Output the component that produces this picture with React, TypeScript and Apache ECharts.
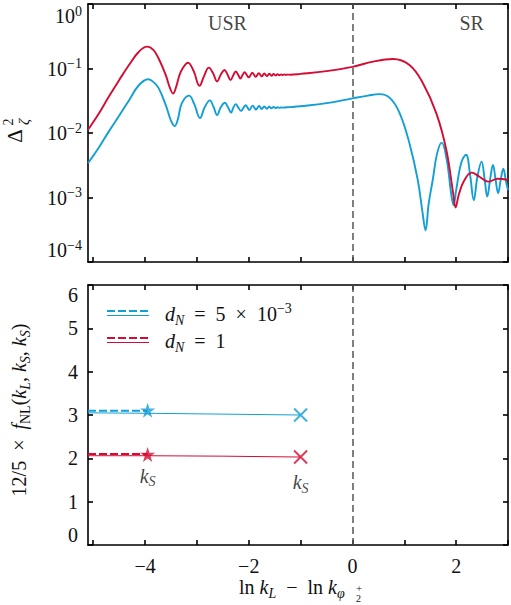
import React, { useEffect, useRef } from "react";
import * as echarts from "echarts";

// Power spectrum Δ²_ζ versus ln k_L − ln k_{φ2+}
const X_MIN = -5.1;
const X_MAX = 3;
const xTickValues = [-5, -4, -3, -2, -1, 0, 1, 2, 3];
const xLabelValues = [-4, -2, 0, 2];
const fnlTickValues = [0, 1, 2, 3, 4, 5, 6];

// d_N = 1
const powerRed: [number, number][] = [
  [-5.1, 0.0112], [-4.9, 0.0195], [-4.7, 0.0365], [-4.5, 0.066], [-4.31, 0.113],
  [-4.12, 0.182], [-3.96, 0.218], [-3.84, 0.195], [-3.74, 0.144], [-3.6, 0.079],
  [-3.52, 0.05], [-3.46, 0.041], [-3.4, 0.052], [-3.31, 0.089], [-3.17, 0.123],
  [-3.06, 0.09], [-2.95, 0.054], [-2.86, 0.077], [-2.77, 0.103], [-2.69, 0.085],
  [-2.61, 0.063], [-2.54, 0.08], [-2.47, 0.095], [-2.41, 0.081], [-2.35, 0.066],
  [-2.3, 0.078], [-2.25, 0.09], [-2.205, 0.08], [-2.16, 0.0697], [-2.12, 0.079],
  [-2.08, 0.088], [-2.04, 0.08], [-2.0, 0.073], [-1.93, 0.086], [-1.865, 0.0745],
  [-1.805, 0.0845], [-1.75, 0.0755], [-1.7, 0.0835], [-1.65, 0.0765], [-1.605, 0.0828],
  [-1.56, 0.0772], [-1.52, 0.0822], [-1.48, 0.0778], [-1.445, 0.0818], [-1.41, 0.0784],
  [-1.375, 0.0812], [-1.345, 0.079], [-1.315, 0.0808], [-1.285, 0.0796], [-1.255, 0.0804],
  [-1.2, 0.0802], [-1.0, 0.0825], [-0.5, 0.091], [0, 0.106], [0.4, 0.128],
  [0.78, 0.14], [1.1, 0.113], [1.36, 0.059], [1.62, 0.02], [1.81, 0.0055],
  [1.94, 0.0012], [1.99, 0.0007], [2.05, 0.0011], [2.15, 0.0018], [2.3, 0.00243],
  [2.45, 0.0021], [2.62, 0.00176], [2.8, 0.00195], [3.0, 0.00187],
];

// d_N = 5 × 10^-3
const powerBlue: [number, number][] = [
  [-5.1, 0.0034], [-4.9, 0.0058], [-4.7, 0.0105], [-4.5, 0.0185], [-4.31, 0.032],
  [-4.12, 0.055], [-3.94, 0.068], [-3.84, 0.062], [-3.74, 0.05], [-3.6, 0.027],
  [-3.5, 0.0155], [-3.43, 0.0128], [-3.37, 0.016], [-3.29, 0.029], [-3.15, 0.038],
  [-3.05, 0.028], [-2.94, 0.017], [-2.85, 0.025], [-2.75, 0.032], [-2.68, 0.0255],
  [-2.61, 0.019], [-2.54, 0.025], [-2.46, 0.0295], [-2.4, 0.025], [-2.34, 0.0207],
  [-2.3, 0.0245], [-2.25, 0.028], [-2.2, 0.0247], [-2.15, 0.022], [-2.1, 0.0247],
  [-2.06, 0.027], [-2.02, 0.0245], [-1.99, 0.0227], [-1.925, 0.0266], [-1.86, 0.0231],
  [-1.8, 0.0262], [-1.75, 0.0235], [-1.7, 0.0258], [-1.65, 0.0238], [-1.605, 0.0255],
  [-1.56, 0.0241], [-1.52, 0.0253], [-1.48, 0.0243], [-1.445, 0.0251], [-1.41, 0.0245],
  [-1.375, 0.025], [-1.345, 0.0247], [-1.315, 0.0249], [-1.2, 0.0252], [-1.0, 0.026],
  [-0.5, 0.029], [0, 0.0345], [0.3, 0.038], [0.52, 0.04], [0.72, 0.035],
  [0.91, 0.0204], [1.1, 0.0069], [1.26, 0.00187], [1.35, 0.0006], [1.41, 0.00031],
  [1.47, 0.0008], [1.55, 0.0019], [1.63, 0.0047], [1.72, 0.0071], [1.82, 0.0038],
  [1.9, 0.0012], [1.95, 0.00076], [2.0, 0.0013], [2.1, 0.0035], [2.19, 0.0046],
  [2.27, 0.0022], [2.34, 0.00091], [2.41, 0.0021], [2.49, 0.0036], [2.55, 0.0019],
  [2.6, 0.00103], [2.655, 0.0019], [2.71, 0.0032], [2.76, 0.0019], [2.81, 0.00117],
  [2.86, 0.0019], [2.91, 0.0028], [2.96, 0.0018], [3.0, 0.0013],
];

// 12/5 × f_NL
const fnlBlueDashed: [number, number][] = [[-5.1, 3.1], [-3.95, 3.1]];
const fnlBlueSolid: [number, number][] = [[-5.1, 3.05], [-3.95, 3.04], [-2.5, 3.02], [-1, 3.0]];
const fnlRedDashed: [number, number][] = [[-5.1, 2.1], [-3.95, 2.1]];
const fnlRedSolid: [number, number][] = [[-5.1, 2.06], [-3.95, 2.06], [-2.5, 2.05], [-1, 2.03]];
const starBlue: [number, number] = [-3.95, 3.11];
const starRed: [number, number] = [-3.95, 2.09];
const crossBlue: [number, number] = [-1, 3.0];
const crossRed: [number, number] = [-1, 2.03];

const regionLabels = [
  { name: "USR", value: [-2.41, 0.51] },
  { name: "SR", value: [2.3, 0.51] },
];

const BLUE = "#129fd6";
const RED = "#d40c33";
const INK = "#111111";
const SERIF = "Liberation Serif";
const EN = "\u2002";

const STAR =
  "path://M50,0 L61.8,35.1 L98.9,35.1 L68.9,56.8 L80.3,91.9 L50,70.3 L19.7,91.9 L31.1,56.8 L1.1,35.1 L38.2,35.1 Z";
const CROSS = "path://M0,0 L10,10 M10,0 L0,10";

const mathRich = {
  i: { fontFamily: SERIF, fontSize: 20, fontStyle: "italic", color: INK, lineHeight: 26 },
  isub: { fontFamily: SERIF, fontSize: 14, fontStyle: "italic", color: INK, lineHeight: 14, verticalAlign: "bottom" },
  sub: { fontFamily: SERIF, fontSize: 14, color: INK, lineHeight: 14, verticalAlign: "bottom" },
  sup: { fontFamily: SERIF, fontSize: 14, color: INK, lineHeight: 14, verticalAlign: "top" },
};

const frameLine = { color: "#000", width: 1.6 };

function minus(v: number): string {
  return v < 0 ? "\u2212" + Math.abs(v) : String(v);
}

function xAxisDef(grid: number, position: "top" | "bottom", labels: boolean) {
  return {
    gridIndex: grid,
    type: "value",
    position,
    min: X_MIN,
    max: X_MAX,
    axisLine: { show: true, onZero: false, lineStyle: frameLine },
    axisTick: { show: true, inside: true, length: 5, customValues: xTickValues, lineStyle: frameLine },
    axisLabel: labels
      ? {
          show: true,
          customValues: xLabelValues,
          formatter: (v: number) => minus(v),
          margin: 11,
          fontFamily: SERIF,
          fontSize: 20,
          color: INK,
        }
      : { show: false },
    splitLine: { show: false },
  };
}

export default function App() {
  const ref = useRef<HTMLDivElement>(null);

  useEffect(() => {
    if (!ref.current) return;
    const chart = echarts.init(ref.current, undefined, { renderer: "svg" });

    const dashedZero = {
      silent: true,
      symbol: ["none", "none"],
      label: { show: false },
      lineStyle: { color: "#555", type: [7, 4], width: 1.5 },
      data: [{ xAxis: 0 }],
    };

    const option: any = {
      animation: false,
      backgroundColor: "#fff",
      textStyle: { fontFamily: SERIF },
      grid: [
        { left: 88, top: 4, width: 420, height: 258, outerBoundsMode: "none" },
        { left: 88, top: 285, width: 420, height: 260, outerBoundsMode: "none" },
      ],
      xAxis: [
        xAxisDef(0, "bottom", false),
        xAxisDef(0, "top", false),
        xAxisDef(1, "bottom", true),
        xAxisDef(1, "top", false),
      ],
      yAxis: [
        {
          gridIndex: 0,
          type: "log",
          logBase: 10,
          min: 1e-4,
          max: 1,
          position: "left",
          axisLine: { show: true, onZero: false, lineStyle: frameLine },
          axisTick: { show: true, inside: true, length: 5, lineStyle: frameLine },
          axisLabel: {
            show: true,
            margin: 6,
            showMinLabel: true,
            showMaxLabel: true,
            verticalAlignMinLabel: "bottom",
            verticalAlignMaxLabel: "top",
            fontFamily: SERIF,
            fontSize: 20,
            lineHeight: 24,
            color: INK,
            formatter: (v: number) => {
              const e = Math.round(Math.log10(v));
              return "10{sup|" + minus(e) + "}";
            },
            rich: { sup: { fontFamily: SERIF, fontSize: 14, color: INK, lineHeight: 14, verticalAlign: "top" } },
          },
          splitLine: { show: false },
        },
        {
          gridIndex: 0,
          type: "log",
          logBase: 10,
          min: 1e-4,
          max: 1,
          position: "right",
          axisLine: { show: true, onZero: false, lineStyle: frameLine },
          axisTick: { show: true, inside: true, length: 5, lineStyle: frameLine },
          axisLabel: { show: false },
          splitLine: { show: false },
        },
        {
          gridIndex: 1,
          type: "value",
          min: 0,
          max: 6,
          interval: 1,
          position: "left",
          axisLine: { show: true, onZero: false, lineStyle: frameLine },
          axisTick: { show: true, inside: true, length: 5, lineStyle: frameLine },
          axisLabel: {
            show: true,
            customValues: fnlTickValues,
            margin: 10,
            showMinLabel: true,
            showMaxLabel: true,
            verticalAlignMinLabel: "bottom",
            verticalAlignMaxLabel: "top",
            fontFamily: SERIF,
            fontSize: 20,
            color: INK,
          },
          splitLine: { show: false },
        },
        {
          gridIndex: 1,
          type: "value",
          min: 0,
          max: 6,
          interval: 1,
          position: "right",
          axisLine: { show: true, onZero: false, lineStyle: frameLine },
          axisTick: { show: true, inside: true, length: 5, lineStyle: frameLine },
          axisLabel: { show: false },
          splitLine: { show: false },
        },
      ],
      series: [
        {
          type: "line",
          xAxisIndex: 0,
          yAxisIndex: 0,
          data: powerBlue,
          smooth: 0.4,
          showSymbol: false,
          lineStyle: { color: BLUE, width: 1.9 },
          markLine: dashedZero,
          z: 3,
        },
        {
          type: "line",
          xAxisIndex: 0,
          yAxisIndex: 0,
          data: powerRed,
          smooth: 0.4,
          showSymbol: false,
          lineStyle: { color: RED, width: 1.9 },
          z: 4,
        },
        {
          type: "scatter",
          xAxisIndex: 0,
          yAxisIndex: 0,
          symbolSize: 0,
          silent: true,
          data: regionLabels,
          label: {
            show: true,
            position: "inside",
            formatter: "{b}",
            fontFamily: SERIF,
            fontSize: 20,
            color: INK,
          },
        },
        {
          type: "line",
          xAxisIndex: 2,
          yAxisIndex: 2,
          data: fnlBlueSolid,
          showSymbol: false,
          lineStyle: { color: BLUE, width: 1 },
          markLine: dashedZero,
        },
        {
          type: "line",
          xAxisIndex: 2,
          yAxisIndex: 2,
          data: fnlBlueDashed,
          showSymbol: false,
          lineStyle: { color: BLUE, width: 2, type: [8, 3] },
        },
        {
          type: "line",
          xAxisIndex: 2,
          yAxisIndex: 2,
          data: fnlRedSolid,
          showSymbol: false,
          lineStyle: { color: RED, width: 1 },
        },
        {
          type: "line",
          xAxisIndex: 2,
          yAxisIndex: 2,
          data: fnlRedDashed,
          showSymbol: false,
          lineStyle: { color: RED, width: 2, type: [8, 3] },
        },
        {
          type: "scatter",
          xAxisIndex: 2,
          yAxisIndex: 2,
          symbol: STAR,
          symbolSize: 15,
          itemStyle: { color: BLUE },
          data: [starBlue],
          z: 5,
        },
        {
          type: "scatter",
          xAxisIndex: 2,
          yAxisIndex: 2,
          symbol: STAR,
          symbolSize: 15,
          itemStyle: { color: RED },
          data: [starRed],
          label: {
            show: true,
            position: "bottom",
            distance: 1,
            formatter: "{i|k}{isub|S}",
            rich: mathRich,
          },
          z: 5,
        },
        {
          type: "scatter",
          xAxisIndex: 2,
          yAxisIndex: 2,
          symbol: CROSS,
          symbolSize: 13,
          itemStyle: { color: "none", borderColor: BLUE, borderWidth: 2 },
          data: [crossBlue],
          z: 5,
        },
        {
          type: "scatter",
          xAxisIndex: 2,
          yAxisIndex: 2,
          symbol: CROSS,
          symbolSize: 13,
          itemStyle: { color: "none", borderColor: RED, borderWidth: 2 },
          data: [crossRed],
          label: {
            show: true,
            position: "bottom",
            distance: 3,
            formatter: "{i|k}{isub|S}",
            rich: mathRich,
          },
          z: 5,
        },
      ],
      graphic: [
        // Δ²_ζ axis title
        {
          type: "group",
          x: 17,
          y: 132,
          rotation: Math.PI / 2,
          children: [
            { type: "text", x: -4, y: -2, style: { text: "\u0394", fontFamily: SERIF, fontSize: 21, fill: INK, align: "center", verticalAlign: "middle" } },
            { type: "text", x: 10, y: -9, style: { text: "2", fontFamily: SERIF, fontSize: 14, fill: INK, align: "center", verticalAlign: "middle" } },
            { type: "text", x: 10, y: 7, style: { text: "\u03b6", fontFamily: SERIF, fontSize: 15, fontStyle: "italic", fill: INK, align: "center", verticalAlign: "middle" } },
          ],
        },
        // 12/5 × f_NL axis title
        {
          type: "text",
          x: 19,
          y: 410,
          rotation: Math.PI / 2,
          style: {
            text: "12/5" + EN + "\u00d7" + EN + "{i|f}{sub|NL}({i|k}{isub|L}, {i|k}{isub|S}, {i|k}{isub|S})",
            fontFamily: SERIF,
            fontSize: 20,
            lineHeight: 26,
            fill: INK,
            align: "center",
            verticalAlign: "middle",
            rich: mathRich,
          },
        },
        // x axis title
        {
          type: "group",
          x: 239,
          y: 587,
          children: [
            {
              type: "text",
              x: 0,
              y: 0,
              style: {
                text: "ln {i|k}{isub|L}" + EN + "\u2212" + EN + "ln {i|k}{isub|\u03c6}",
                fontFamily: SERIF,
                fontSize: 20,
                lineHeight: 26,
                fill: INK,
                align: "left",
                verticalAlign: "middle",
                rich: mathRich,
              },
            },
            { type: "text", x: 117, y: 1, style: { text: "+", fontFamily: SERIF, fontSize: 11, fill: INK, align: "left", verticalAlign: "middle" } },
            { type: "text", x: 117, y: 11, style: { text: "2", fontFamily: SERIF, fontSize: 10, fill: INK, align: "left", verticalAlign: "middle" } },
          ],
        },
        // legend
        { type: "line", shape: { x1: 107, y1: 311, x2: 149, y2: 311 }, style: { stroke: BLUE, lineWidth: 2, lineDash: [8, 3] } },
        { type: "line", shape: { x1: 107, y1: 315.5, x2: 149, y2: 315.5 }, style: { stroke: BLUE, lineWidth: 1 } },
        {
          type: "text",
          x: 165,
          y: 314,
          style: {
            text: "{i|d}{isub|N}" + EN + "=" + EN + "5" + EN + "\u00d7" + EN + "10{sup|\u22123}",
            fontFamily: SERIF,
            fontSize: 20,
            lineHeight: 26,
            fill: INK,
            align: "left",
            verticalAlign: "middle",
            rich: mathRich,
          },
        },
        { type: "line", shape: { x1: 107, y1: 338, x2: 149, y2: 338 }, style: { stroke: RED, lineWidth: 2, lineDash: [8, 3] } },
        { type: "line", shape: { x1: 107, y1: 342.5, x2: 149, y2: 342.5 }, style: { stroke: RED, lineWidth: 1 } },
        {
          type: "text",
          x: 165,
          y: 341,
          style: {
            text: "{i|d}{isub|N}" + EN + "=" + EN + "1",
            fontFamily: SERIF,
            fontSize: 20,
            lineHeight: 26,
            fill: INK,
            align: "left",
            verticalAlign: "middle",
            rich: mathRich,
          },
        },
      ],
    };

    chart.setOption(option);
    return () => chart.dispose();
  }, []);

  return <div ref={ref} style={{ width: 511, height: 605, position: "absolute", left: 0, top: 0 }} />;
}
